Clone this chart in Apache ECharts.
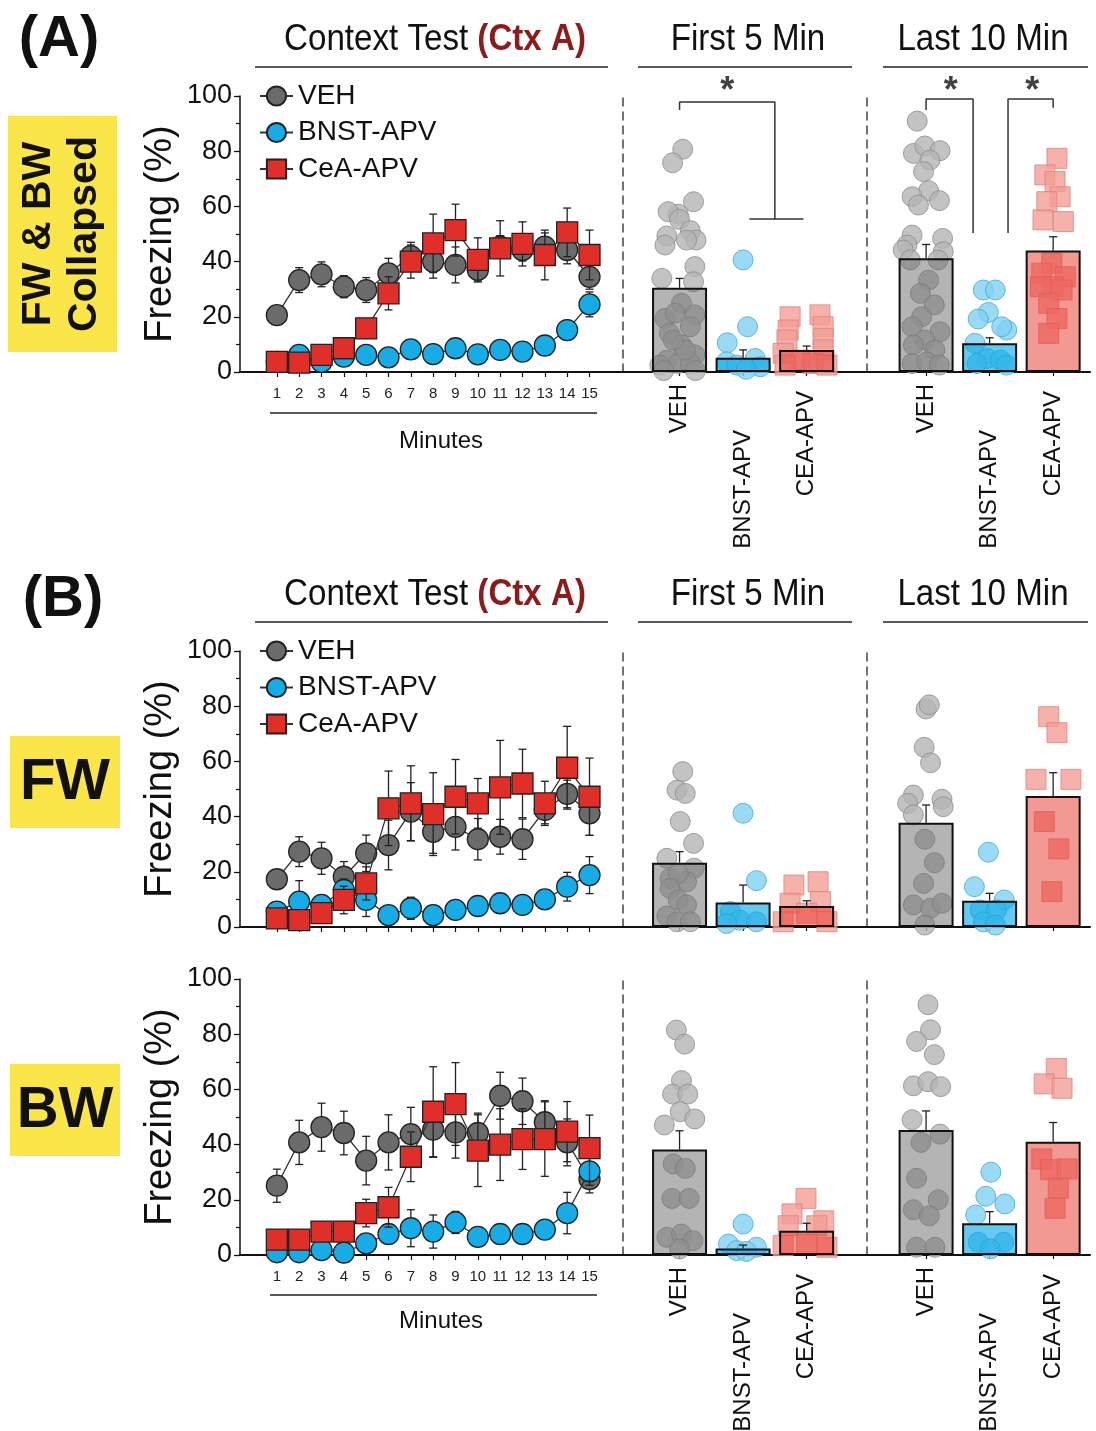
<!DOCTYPE html>
<html>
<head>
<meta charset="utf-8">
<title>Freezing - context test</title>
<script src="https://cdn.jsdelivr.net/npm/echarts@6/dist/echarts.min.js"></script>
<style>
  html, body { margin: 0; padding: 0; background: #fff; }
  #chart { width: 1096px; height: 1431px; }
</style>
</head>
<body>
<div id="chart"></div>
<script>
  // ---------- data ----------
  var minutes = [1, 2, 3, 4, 5, 6, 7, 8, 9, 10, 11, 12, 13, 14, 15]
  var lineNames = ['VEH', 'BNST-APV', 'CeA-APV']
  var groupNames = ['VEH', 'BNST-APV', 'CEA-APV']
  var groupX = [1, 2, 3]

  // (A) FW & BW collapsed, minute by minute (mean, sem)
  var aVeh = [20.6, 33.3, 35.4, 30.9, 29.7, 35.7, 42, 40, 38.8, 37, 45.4, 44.2, 45.4, 44.2, 34.5]
  var aVehErr = [1.5, 4.5, 4.5, 4, 4.5, 5.5, 5, 6, 6.5, 4, 4, 4, 5, 5, 4.5]
  var aBnst = [3.7, 6.2, 3.7, 5.6, 6.2, 5.3, 8.2, 6.5, 8.6, 6.4, 8, 7.4, 9.6, 15.2, 24.5]
  var aBnstErr = [1.5, 2, 1.5, 1.5, 1.5, 1.5, 2.5, 1.5, 2, 1.5, 1.5, 1.5, 2, 3.5, 4.5]
  var aCea = [3.7, 3.4, 6.2, 8.6, 15.8, 28.5, 40, 46.6, 51.4, 40.6, 44.8, 46.4, 42.4, 50.6, 42.4]
  var aCeaErr = [1, 1, 1.5, 2, 2.5, 6, 6, 10.6, 9.4, 8, 10, 8, 9, 8.8, 9]

  // (B) FW
  var fwVeh = [17.3, 27.3, 24.9, 18.2, 26.7, 29.7, 41.8, 34.5, 36.3, 31.8, 32.7, 31.8, 42.4, 48.2, 41.2]
  var fwVehErr = [2.5, 5.4, 5.8, 5.5, 6.6, 9, 10.5, 7.8, 8.4, 7.5, 6.3, 7.3, 5, 5, 8]
  var fwBnst = [5.6, 9.2, 8, 13.4, 9.8, 4.3, 6.8, 4.3, 6.2, 7.6, 8.6, 8, 10, 14.6, 18.8]
  var fwBnstErr = [2.5, 7.6, 3.5, 4, 6, 2, 4, 3.5, 2.5, 3, 3, 3, 2.5, 5.2, 6.7]
  var fwCea = [3.1, 2.5, 5, 9.8, 15.8, 43, 44.8, 40.9, 47.2, 44.8, 50.6, 52, 44.8, 57.7, 47.2]
  var fwCeaErr = [2, 1.5, 3, 5, 6, 13.5, 13.6, 15, 13.5, 9, 17, 12.4, 8, 15, 14]

  // (B) BW
  var bwVeh = [25.1, 40.8, 46.3, 44.2, 34.2, 40.8, 43.8, 45.4, 44.4, 44.2, 57.7, 55.7, 48.1, 40.8, 27.5]
  var bwVehErr = [6, 8, 8.7, 7.9, 8.8, 10, 9.7, 10, 9.3, 7.2, 8.5, 8.4, 7.8, 8.5, 5]
  var bwBnst = [1, 1, 1.8, 0.9, 4.2, 7.6, 9.7, 8.5, 11.8, 6.6, 7.6, 7.6, 9.2, 15.2, 30.3]
  var bwBnstErr = [1, 1, 1.5, 1, 2, 3, 6.7, 6, 4, 2, 2, 2, 2.5, 7.5, 5]
  var bwCea = [5.6, 5.6, 8.5, 8.5, 15.2, 17.3, 35.6, 51.9, 54.7, 37.8, 40, 42, 42, 44.7, 38.7]
  var bwCeaErr = [2, 2, 2.5, 3, 5, 7.2, 9, 16.3, 15, 13, 13, 11, 13.5, 10.9, 12]

  // bar panels: group means and sem (VEH, BNST-APV, CEA-APV)
  var aFirstMean = [30.5, 5.2, 8.0]
  var aFirstErr = [3.4, 2.8, 1.4]
  var aLastMean = [41.2, 10.4, 44.0]
  var aLastErr = [5, 2, 5]
  var fwFirstMean = [23.3, 8.9, 7.6]
  var fwFirstErr = [4, 6.3, 1.9]
  var fwLastMean = [37.8, 9.5, 47.5]
  var fwLastErr = [6.4, 2.7, 8.4]
  var bwFirstMean = [38.2, 2.4, 8.8]
  var bwFirstErr = [6.8, 1.2, 2.7]
  var bwLastMean = [45.3, 11.5, 41]
  var bwLastErr = [6.9, 4.2, 7]

  // individual animals [group position with jitter, freezing %]
  var aFirstVehPts = [[1.05, 80.7], [0.89, 75.8], [1.22, 61.7], [0.98, 57.2], [0.82, 58.1], [1.0, 55.3], [0.8, 49.3], [1.17, 51.2], [1.26, 47.8], [0.77, 46], [1.11, 47.8], [1.24, 38.2], [0.72, 33.9], [1.22, 32.7], [1.03, 24.9], [0.77, 19.4], [0.93, 21.3], [1.24, 20.7], [0.84, 14], [1.17, 16.4], [1.03, 9.8], [1.24, 6.2], [0.8, 4.3], [0.98, 3.1], [1.17, 3.1], [0.69, 2.5], [1.09, 8], [0.9, 11.6], [0.75, 0.5], [1.25, 0.5]]
  var aFirstBnstPts = [[2.0, 40.6], [2.07, 16.4], [1.75, 10.6], [1.74, 3.7], [1.9, 2.5], [2.19, 4.9], [2.27, 1.9], [2.05, 1]]
  var aFirstCeaPts = [[2.74, 20], [3.21, 20.7], [2.71, 15.2], [3.26, 16.4], [3.26, 12.2], [2.69, 11.6], [2.63, 6.8], [3.26, 8], [2.9, 4.3], [3.1, 3.1], [2.66, 2.5], [3.32, 2.5]]
  var aLastVehPts = [[0.86, 90.9], [0.8, 79.2], [0.98, 81.9], [1.22, 80.2], [1.06, 76.8], [0.96, 72.6], [1.04, 65.7], [0.78, 63.5], [1.21, 62.1], [0.88, 60.5], [0.78, 49.6], [1.26, 48.4], [0.7, 46], [1.27, 43.6], [0.64, 44.2], [0.75, 40.6], [1.19, 40.6], [1.04, 33.3], [0.91, 28.5], [1.13, 24.3], [0.93, 20], [0.78, 16.4], [1.22, 14.6], [0.98, 11.6], [0.8, 9.8], [1.14, 8], [0.78, 3.1], [1.01, 3.7], [1.21, 2.5]]
  var aLastBnstPts = [[1.9, 29.7], [2.09, 29.7], [1.98, 21.6], [1.82, 19.2], [2.27, 15.2], [2.19, 16.4], [1.77, 10.4], [1.96, 4.9], [2.17, 4.3], [1.8, 3.1], [2.27, 2.5]]
  var aLastCeaPts = [[3.06, 77.4], [2.87, 71.4], [3.03, 69], [3.11, 63.5], [2.9, 61.7], [2.84, 55.1], [3.16, 54.5], [2.98, 39.4], [2.82, 35.8], [3.19, 34.5], [3, 30.9], [3.14, 29.7], [2.8, 30.9], [2.93, 24.9], [3.06, 19.4], [2.93, 14]]

  var fwFirstVehPts = [[1.05, 56.3], [0.96, 49.6], [1.09, 48.4], [1.01, 38.2], [1.22, 30.3], [0.8, 24.9], [1.23, 21.3], [0.85, 17.6], [1.11, 16.4], [0.98, 19.4], [0.85, 14], [0.98, 9.8], [1.11, 8], [0.8, 4], [0.96, 1.9], [1.17, 1.9]]
  var fwFirstBnstPts = [[2.0, 41.2], [2.21, 16.8], [1.8, 5.6], [1.95, 2.5], [2.21, 1.9], [1.74, 1.3]]
  var fwFirstCeaPts = [[2.8, 15.2], [3.18, 16.4], [2.74, 8.6], [3.22, 9.2], [3.0, 5], [2.63, 1.9], [3.32, 1.9]]
  var fwLastVehPts = [[1.0, 79], [1.05, 80.5], [0.97, 65.1], [1.07, 59.5], [0.8, 47.8], [0.71, 44.8], [1.25, 46.3], [1.27, 43.6], [0.8, 40.6], [0.98, 31.8], [1.13, 23.3], [0.96, 15.8], [0.8, 8], [1.07, 6.8], [1.25, 8.6], [0.98, 0.7]]
  var fwLastBnstPts = [[1.98, 27.1], [1.76, 14.6], [2.23, 9.8], [1.85, 6.2], [2.11, 6.2], [1.9, 1.9], [2.09, 0.7]]
  var fwLastCeaPts = [[2.93, 76.2], [3.06, 70.4], [2.73, 53.5], [3.28, 53.5], [2.86, 38.2], [3.09, 28.3], [2.98, 12.8]]

  var bwFirstVehPts = [[0.95, 81.5], [1.08, 76.4], [1.03, 63.2], [0.89, 58.3], [1.13, 58.3], [1.01, 51.9], [1.24, 49.3], [0.76, 47.1], [0.9, 33], [1.09, 31.4], [0.88, 20.5], [1.15, 20.5], [0.8, 6.4], [1.03, 7.6], [1.21, 5.2], [1.0, 2.2]]
  var bwFirstBnstPts = [[2.0, 11.2], [1.77, 4], [2.21, 2.8], [1.9, 1.6], [2.05, 1.3]]
  var bwFirstCeaPts = [[2.99, 20.5], [2.77, 14.9], [3.27, 12.4], [2.71, 10.6], [3.16, 10.6], [2.63, 3.4], [3.32, 2.8], [3.0, 4]]
  var bwLastVehPts = [[1.03, 90.7], [1.07, 81.6], [0.85, 77.4], [1.13, 72.6], [0.8, 61.3], [1.03, 62.8], [1.23, 61], [0.78, 49], [1.22, 43.8], [0.92, 40.8], [0.85, 27.8], [1.19, 20], [0.8, 16.4], [1.05, 14.2], [0.85, 2.8], [1.14, 2.8]]
  var bwLastBnstPts = [[2.02, 30], [1.94, 21.3], [2.24, 18.5], [1.78, 14.5], [1.82, 4.6], [2.22, 4.6], [2.01, 2.2]]
  var bwLastCeaPts = [[3.05, 67.6], [2.86, 62], [3.14, 60.4], [2.82, 34.8], [2.96, 30.9], [3.22, 31.2], [3.08, 24.2], [3.03, 16.9]]

  // significance brackets, row A (group position, freezing %)
  var sigFirstPath = [[1, 94.9], [1, 97.8], [2.5, 97.8], [2.5, 55.4]]
  var sigFirstBar = [[2.1, 55.4], [2.95, 55.4]]
  var sigLastLeft = [[1, 94.9], [1, 98.9], [1.74, 98.9], [1.74, 50.4]]
  var sigLastRight = [[2.29, 50.4], [2.29, 98.9], [3, 98.9], [3, 95.7]]
  var starsFirst = [[1.75, 101.5]]
  var starsLast = [[1.39, 101.5], [2.67, 101.5]]

  // ---------- styles / layout ----------
  var FONT = '"Liberation Sans", Arial, Helvetica, sans-serif'
  var lineFill = ['#6b6b6b', '#17ace6', '#e02f28']
  var lineSymbol = ['circle', 'circle', 'rect']
  var ptFill = ['#b4b4b4', '#80d1f2', '#f49d96']
  var ptBorder = ['#8c8c8c', '#4ba7cd', '#d9867f']
  var barFill = ['rgba(105,105,105,0.5)', 'rgba(0,165,228,0.6)', 'rgba(232,52,42,0.5)']
  var rowTops = [96, 651, 979]
  var rowH = 276
  var showXLabels = [true, false, true]

  var lineSets = [
    {vals: [aVeh, aBnst, aCea], errs: [aVehErr, aBnstErr, aCeaErr]},
    {vals: [fwVeh, fwBnst, fwCea], errs: [fwVehErr, fwBnstErr, fwCeaErr]},
    {vals: [bwVeh, bwBnst, bwCea], errs: [bwVehErr, bwBnstErr, bwCeaErr]}
  ]
  var barSets = [
    [{mean: aFirstMean, err: aFirstErr, pts: [aFirstVehPts, aFirstBnstPts, aFirstCeaPts]},
     {mean: aLastMean, err: aLastErr, pts: [aLastVehPts, aLastBnstPts, aLastCeaPts]}],
    [{mean: fwFirstMean, err: fwFirstErr, pts: [fwFirstVehPts, fwFirstBnstPts, fwFirstCeaPts]},
     {mean: fwLastMean, err: fwLastErr, pts: [fwLastVehPts, fwLastBnstPts, fwLastCeaPts]}],
    [{mean: bwFirstMean, err: bwFirstErr, pts: [bwFirstVehPts, bwFirstBnstPts, bwFirstCeaPts]},
     {mean: bwLastMean, err: bwLastErr, pts: [bwLastVehPts, bwLastBnstPts, bwLastCeaPts]}]
  ]

  // error bars: both directions on the time course, upward on the bars
  function errRender (upOnly) {
    return function (params, api) {
      var x = api.value(0)
      var m = api.value(1)
      var e = api.value(2)
      var hi = api.coord([x, m + e])
      var lo = api.coord([x, upOnly ? m : Math.max(0, m - e)])
      var cap = 4
      var st = {stroke: '#222', lineWidth: 1.3}
      var kids = [
        {type: 'line', shape: {x1: hi[0], y1: hi[1], x2: lo[0], y2: lo[1]}, style: st},
        {type: 'line', shape: {x1: hi[0] - cap, y1: hi[1], x2: hi[0] + cap, y2: hi[1]}, style: st}
      ]
      if (!upOnly) {
        kids.push({type: 'line', shape: {x1: lo[0] - cap, y1: lo[1], x2: lo[0] + cap, y2: lo[1]}, style: st})
      }
      return {type: 'group', children: kids}
    }
  }

  var grid = []
  var xAxis = []
  var yAxis = []
  var series = []

  var axisBase = {color: '#111', width: 2}

  rowTops.forEach(function (top, r) {
    var g0 = r * 3
    // time course grid, first 5 min grid, last 10 min grid
    grid.push({left: 240, top: top, width: 383, height: rowH, outerBoundsMode: 'none'})
    grid.push({left: 623, top: top, width: 244, height: rowH, outerBoundsMode: 'none'})
    grid.push({left: 867, top: top, width: 223, height: rowH, outerBoundsMode: 'none'})

    xAxis.push({
      gridIndex: g0, type: 'value', min: -0.65, max: 16.5,
      axisLine: {show: true, onZero: false, lineStyle: axisBase},
      axisTick: {show: true, customValues: minutes, length: 5, lineStyle: {color: '#111', width: 1.2}},
      axisLabel: {show: showXLabels[r], customValues: minutes, fontSize: 15, color: '#222', margin: 14, fontFamily: FONT},
      splitLine: {show: false}
    })
    ;[[0.11, 3.95], [0.07, 3.58]].forEach(function (rng, k) {
      xAxis.push({
        gridIndex: g0 + 1 + k, type: 'value', min: rng[0], max: rng[1],
        axisLine: {show: true, onZero: false, lineStyle: axisBase},
        axisTick: {show: true, customValues: groupX, length: 4, lineStyle: {color: '#111', width: 1.2}},
        axisLabel: {
          show: showXLabels[r], customValues: groupX, rotate: 90, fontSize: 24, color: '#111',
          margin: 12, fontFamily: FONT,
          formatter: function (v) { return '{g' + Math.round(v) + '|' + groupNames[Math.round(v) - 1] + '}' },
          rich: {
            g1: {fontSize: 24, fontFamily: FONT, color: '#111'},
            g2: {fontSize: 24, fontFamily: FONT, color: '#111', padding: [0, 46, 0, 0]},
            g3: {fontSize: 24, fontFamily: FONT, color: '#111', padding: [0, 7, 0, 0]}
          }
        },
        splitLine: {show: false}
      })
    })

    yAxis.push({
      gridIndex: g0, type: 'value', min: 0, max: 100, interval: 20,
      axisLine: {show: true, onZero: false, lineStyle: {color: '#111', width: 1.5}},
      axisTick: {show: true, length: 6, lineStyle: {color: '#111', width: 1.3}},
      minorTick: {show: true, splitNumber: 2, length: 4, lineStyle: {color: '#111', width: 1.2}},
      axisLabel: {fontSize: 27, color: '#111', margin: 8, fontFamily: FONT},
      splitLine: {show: false},
      name: 'Freezing (%)', nameLocation: 'middle', nameGap: 60,
      nameTextStyle: {fontSize: 38, color: '#111', fontFamily: FONT}
    })
    for (var k = 1; k <= 2; k++) {
      yAxis.push({
        gridIndex: g0 + k, type: 'value', min: 0, max: 100,
        axisLine: {show: true, onZero: false, lineStyle: {color: '#444', width: 1.5, type: [8, 6]}},
        axisTick: {show: false}, axisLabel: {show: false}, splitLine: {show: false}
      })
    }

    // time course
    var ls = lineSets[r]
    for (var s = 0; s < 3; s++) {
      series.push({
        type: 'custom', xAxisIndex: g0, yAxisIndex: g0, z: 2 + s * 2, silent: true,
        renderItem: errRender(false),
        data: minutes.map(function (m, i) { return [m, ls.vals[s][i], ls.errs[s][i]] })
      })
      series.push({
        type: 'line', name: lineNames[s], xAxisIndex: g0, yAxisIndex: g0, z: 3 + s * 2,
        data: minutes.map(function (m, i) { return [m, ls.vals[s][i]] }),
        symbol: lineSymbol[s], symbolSize: 21,
        itemStyle: {color: lineFill[s], borderColor: '#222', borderWidth: 1.3},
        lineStyle: {color: '#333', width: 1.3},
        emphasis: {disabled: true}
      })
    }

    // bar panels
    barSets[r].forEach(function (bs, k) {
      var gi = g0 + 1 + k
      for (var s = 0; s < 3; s++) {
        series.push({
          type: 'scatter', xAxisIndex: gi, yAxisIndex: gi, z: 2,
          data: bs.pts[s], symbol: s === 2 ? 'rect' : 'circle', symbolSize: 20,
          itemStyle: {color: ptFill[s], borderColor: ptBorder[s], borderWidth: 1},
          emphasis: {disabled: true}
        })
      }
      series.push({
        type: 'bar', xAxisIndex: gi, yAxisIndex: gi, z: 3, barWidth: 55,
        data: groupX.map(function (x, i) {
          return {value: [x, bs.mean[i]], itemStyle: {color: barFill[i], borderColor: '#111', borderWidth: 2}}
        }),
        emphasis: {disabled: true}
      })
      series.push({
        type: 'custom', xAxisIndex: gi, yAxisIndex: gi, z: 4, silent: true,
        renderItem: errRender(true),
        data: groupX.map(function (x, i) { return [x, bs.mean[i], bs.err[i]] })
      })
    })
  })

  // significance marks (row A)
  function bracket (gi, pts) {
    return {
      type: 'line', xAxisIndex: gi, yAxisIndex: gi, data: pts, symbol: 'none', clip: false,
      lineStyle: {color: '#333', width: 1.5}, z: 6, silent: true
    }
  }
  function stars (gi, pts) {
    return {
      type: 'scatter', xAxisIndex: gi, yAxisIndex: gi, data: pts, symbolSize: 1, clip: false, z: 7,
      itemStyle: {color: 'rgba(0,0,0,0)'}, silent: true,
      label: {show: true, formatter: '*', position: 'inside', fontSize: 36, fontWeight: 'bold', color: '#111', fontFamily: FONT}
    }
  }
  series.push(bracket(1, sigFirstPath), bracket(1, sigFirstBar), stars(1, starsFirst))
  series.push(bracket(2, sigLastLeft), bracket(2, sigLastRight), stars(2, starsLast))

  // titles, panel letters, yellow labels
  var graphic = []
  function txt (x, y, t, size, weight, extra) {
    var o = {
      type: 'text', x: x, y: y, silent: true,
      style: {text: t, fontSize: size, fontWeight: weight || 'normal', fontFamily: FONT, fill: '#111', align: 'center', verticalAlign: 'middle'}
    }
    if (extra) Object.keys(extra).forEach(function (key) { o[key] = extra[key] })
    return o
  }
  function hline (x1, x2, y) {
    return {type: 'line', silent: true, shape: {x1: x1, y1: y, x2: x2, y2: y}, style: {stroke: '#222', lineWidth: 1.3}}
  }
  ;[40, 595].forEach(function (ty) {
    graphic.push({
      type: 'text', x: 435, y: ty, scaleX: 0.92, silent: true,
      style: {
        text: '{n|Context Test }{r|(Ctx A)}', align: 'center', verticalAlign: 'middle',
        rich: {
          n: {fontSize: 36, fontFamily: FONT, fill: '#111', color: '#111'},
          r: {fontSize: 36, fontFamily: FONT, fontWeight: 'bold', fill: '#8b1c1c', color: '#8b1c1c'}
        }
      }
    })
    graphic.push(txt(748, ty, 'First 5 Min', 36, 'normal', {scaleX: 0.92}))
    graphic.push(txt(983, ty, 'Last 10 Min', 36, 'normal', {scaleX: 0.92}))
    graphic.push(hline(255, 608, ty + 27), hline(638, 852, ty + 27), hline(883, 1088, ty + 27))
  })
  graphic.push(txt(59, 40, '(A)', 58, 'bold'))
  graphic.push(txt(63, 600, '(B)', 58, 'bold'))

  graphic.push({type: 'rect', silent: true, shape: {x: 8, y: 116, width: 109, height: 236}, style: {fill: '#fbe64a'}})
  graphic.push(txt(62, 234, 'FW & BW\nCollapsed', 40, 'bold', {rotation: Math.PI / 2, style: {
    text: 'FW & BW\nCollapsed', fontSize: 41, fontWeight: 'bold', fontFamily: FONT, fill: '#111',
    align: 'center', verticalAlign: 'middle', lineHeight: 46}}))
  graphic.push({type: 'rect', silent: true, shape: {x: 10, y: 736, width: 110, height: 92}, style: {fill: '#fbe64a'}})
  graphic.push(txt(65, 783, 'FW', 58, 'bold'))
  graphic.push({type: 'rect', silent: true, shape: {x: 10, y: 1064, width: 110, height: 92}, style: {fill: '#fbe64a'}})
  graphic.push(txt(65, 1111, 'BW', 58, 'bold'))

  // "Minutes" caption under the time axis
  graphic.push(hline(270, 597, 413), txt(441, 441, 'Minutes', 24))
  graphic.push(hline(270, 597, 1295), txt(441, 1321, 'Minutes', 24))

  var legends = [0, 1].map(function (r) {
    return {
      orient: 'vertical', left: 254, top: rowTops[r] - 19, itemWidth: 33, itemHeight: 24, itemGap: 8.5,
      selectedMode: false, data: lineNames,
      textStyle: {fontSize: 28, color: '#111', fontFamily: FONT}
    }
  })

  var chart = echarts.init(document.getElementById('chart'))
  chart.setOption({
    animation: false,
    backgroundColor: '#fff',
    textStyle: {fontFamily: FONT},
    legend: legends,
    grid: grid,
    xAxis: xAxis,
    yAxis: yAxis,
    series: series,
    graphic: graphic
  })
</script>
</body>
</html>
